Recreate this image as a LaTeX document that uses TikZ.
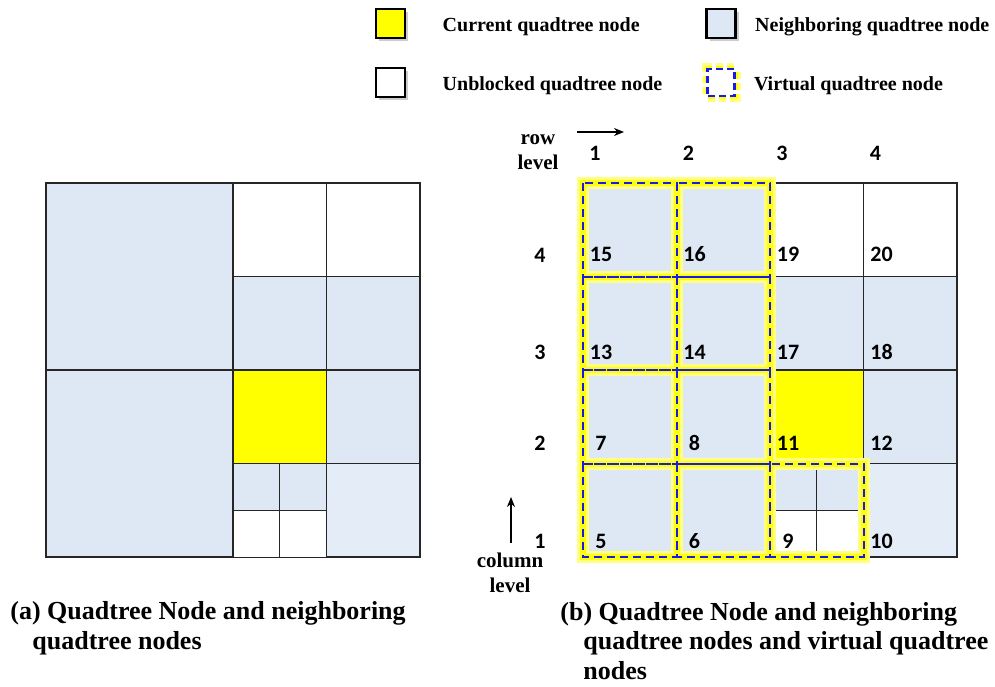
\documentclass[tikz,border=0pt]{standalone}
\usepackage{fontspec}
\setmainfont{Liberation Serif}
\newfontfamily\calibrifont{Carlito}
\usetikzlibrary{arrows.meta,positioning,shadows}
\definecolor{QTYellow}{HTML}{FFFF00}
\definecolor{QTBlue}{HTML}{DEE8F4}
\definecolor{QTPale}{HTML}{E3ECF7}
\definecolor{QTDash}{HTML}{1A1AE6}
\definecolor{QTLine}{HTML}{262626}

\begin{document}
\begin{tikzpicture}[x=0.5pt, y=-0.5pt, font=\bfseries,
  cell/.style={draw=QTLine, line width=0.8pt, anchor=north west, inner sep=0pt, outer sep=0pt, minimum size=46.75pt},
  bigcell/.style={cell, minimum size=93.5pt},
  subcell/.style={cell, line width=0.5pt, minimum size=23.375pt},
  glowwide/.style={draw=QTYellow!50, line width=6pt},
  glowcore/.style={draw=QTYellow!95!white, line width=3pt},
  virtual/.style={draw=QTDash, line width=1pt, dash pattern=on 4pt off 2.5pt},
  key/.style={draw=black, line width=1.3pt, minimum size=14.5pt, inner sep=0pt,
    drop shadow={shadow xshift=1.5pt, shadow yshift=-1.5pt, opacity=0.4}},
  keyvirt/.style={fill=white, virtual, line width=1.1pt, dash pattern=on 3.5pt off 2pt, minimum size=13.5pt, inner sep=0pt,
    preaction={glowwide}, preaction={glowcore}},
  keytext/.style={inner sep=0pt, anchor=west, yshift=-1.5pt, font=\bfseries\fontsize{10}{12}\selectfont},
  num/.style={inner sep=0pt, font=\calibrifont\bfseries\fontsize{11}{13}\selectfont},
  axis/.style={inner sep=0pt, align=center, font=\bfseries\fontsize{10.5}{12.5}\selectfont},
  caption/.style={inner sep=0pt, anchor=base west, align=left, font=\bfseries\fontsize{13}{14.75}\selectfont},
  levelarrow/.style={-{Stealth[length=5pt, width=4pt]}, line width=0.6pt}]
\useasboundingbox (0,0) rectangle (995,686);

% legend
\node[key, fill=QTYellow] (kcur) at (390.5,23.5) {};
\node[keytext, right=18pt of kcur] (tcur) {Current quadtree node};
\node[key, fill=QTBlue] (knbr) at (721,23.5) {};
\node[keytext, right=9pt of knbr] (tnbr) {Neighboring quadtree node};
\node[key, fill=white] (kfree) at (390.5,82.5) {};
\node[keytext, right=18pt of kfree] (tfree) {Unblocked quadtree node};
\node[keyvirt] (kvirt) at (721,82.5) {};
\node[keytext, right=9pt of kvirt] (tvirt) {Virtual quadtree node};

% (a) quadtree around the current node
\node[bigcell, fill=QTBlue] (qtop) at (46,183) {};
\node[bigcell, fill=QTBlue] (qbot) at (46,370) {};
\foreach \n/\x/\y/\f in {q1/233/183/white, q2/326.5/183/white, q3/233/276.5/QTBlue, q4/326.5/276.5/QTBlue,
    q5/233/370/QTYellow, q6/326.5/370/QTBlue, q7/326.5/463.5/QTPale}
  \node[cell, fill=\f] (\n) at (\x,\y) {};
\foreach \n/\x/\y/\f in {s1/233/463.5/QTBlue, s2/279.75/463.5/QTBlue, s3/233/510.25/white, s4/279.75/510.25/white}
  \node[subcell, fill=\f] (\n) at (\x,\y) {};

% (b) level grid, cells named by number
\foreach \n/\c/\r/\f in {15/1/4/QTBlue, 16/2/4/QTBlue, 19/3/4/white, 20/4/4/white,
    13/1/3/QTBlue, 14/2/3/QTBlue, 17/3/3/QTBlue, 18/4/3/QTBlue,
    7/1/2/QTBlue, 8/2/2/QTBlue, 11/3/2/QTYellow, 12/4/2/QTBlue,
    5/1/1/QTBlue, 6/2/1/QTBlue, 9/3/1/white, 10/4/1/QTPale}
  \node[cell, fill=\f] (c\n) at ({583+93.5*(\c-1)}, {557-93.5*\r}) {};
\foreach \n/\x/\y/\f in {9a/770/463.5/QTBlue, 9b/816.75/463.5/QTBlue, 9c/770/510.25/white, 9d/816.75/510.25/white}
  \node[subcell, fill=\f] (c\n) at (\x,\y) {};

% virtual nodes: glow first, dashes on top
\draw[glowwide] \foreach \n in {5,6,7,8,9,13,14,15,16} {(c\n.north west) rectangle (c\n.south east)};
\draw[glowcore] \foreach \n in {5,6,7,8,9,13,14,15,16} {(c\n.north west) rectangle (c\n.south east)};
\draw[virtual] \foreach \n in {5,6,7,8,9,13,14,15,16} {(c\n.north west) rectangle (c\n.south east)};

% cell numbers
\foreach \n/\c/\y in {15/1/254, 16/2/254, 19/3/254, 20/4/254,
    13/1/352, 14/2/352, 17/3/352, 18/4/352,
    7/1/443, 8/2/443, 11/3/443, 12/4/443,
    5/1/541, 6/2/541, 9/3/541, 10/4/541}
  \node[num] (n\n) at ({601+93.5*(\c-1)}, \y) {\n};

% level numbers and axis names
\foreach \c in {1,...,4}
  \node[num] (col\c) at ({595+93.5*(\c-1)}, 153) {\c};
\foreach \r/\y in {4/255, 3/352, 2/443, 1/541}
  \node[num] (row\r) at (540,\y) {\r};
\node[axis] (rowlev) at (538,152.5) {row\\level};
\node[axis] (collev) at (510,572.5) {column\\level};
\coordinate (rowfrom) at (577,132);
\coordinate (rowto) at (624,132);
\coordinate (colfrom) at (511,543);
\coordinate (colto) at (511,497);
\draw[levelarrow] (rowfrom) -- (rowto);
\draw[levelarrow] (colfrom) -- (colto);

% captions (base is the last line)
\node[caption] (capa) at (10,649) {(a) Quadtree Node and neighboring\\\hspace*{11pt}quadtree nodes};
\node[caption] (capb) at (560,679) {(b) Quadtree Node and neighboring\\\hspace*{11.5pt}quadtree nodes and virtual quadtree\\\hspace*{11.5pt}nodes};
\end{tikzpicture}
\end{document}
